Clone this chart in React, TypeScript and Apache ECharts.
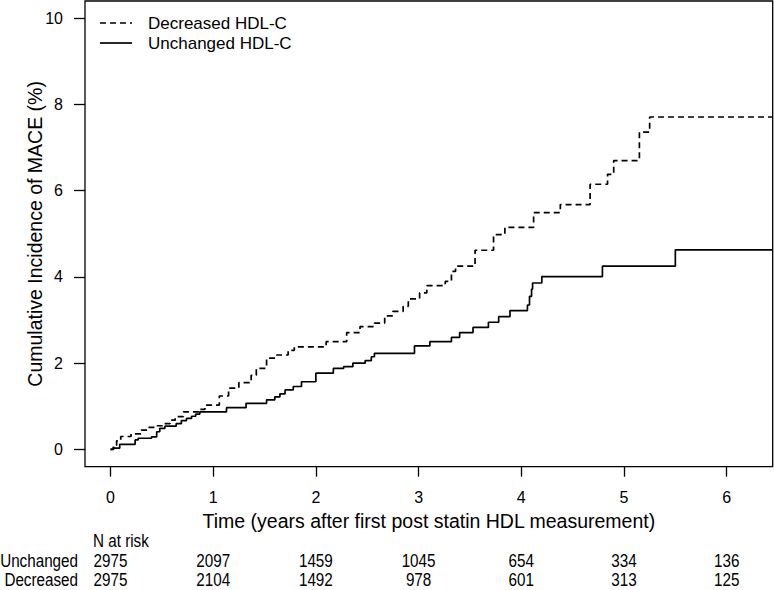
import React, { useEffect, useRef } from "react";
import * as echarts from "echarts";

const unchangedX = [0, 0.02, 0.09, 0.24, 0.27, 0.40, 0.45, 0.48, 0.53, 0.64, 0.69, 0.74, 0.79, 0.83, 0.87, 1.13, 1.32, 1.52, 1.60, 1.65, 1.70, 1.78, 1.86, 2.0, 2.17, 2.27, 2.36, 2.48, 2.54, 2.57, 2.96, 3.11, 3.32, 3.40, 3.53, 3.68, 3.78, 3.89, 4.06, 4.08, 4.10, 4.11, 4.20, 4.79, 5.50, 6.45];
const unchangedY = [0, 0.03, 0.12, 0.22, 0.26, 0.29, 0.41, 0.49, 0.54, 0.60, 0.67, 0.72, 0.77, 0.82, 0.87, 0.97, 1.07, 1.15, 1.22, 1.29, 1.38, 1.46, 1.57, 1.77, 1.88, 1.92, 2.0, 2.06, 2.15, 2.23, 2.40, 2.50, 2.60, 2.71, 2.83, 2.95, 3.08, 3.22, 3.35, 3.55, 3.72, 3.86, 4.01, 4.25, 4.63, 4.63];

const decreasedX = [0, 0.03, 0.06, 0.10, 0.20, 0.30, 0.37, 0.45, 0.51, 0.58, 0.63, 0.71, 0.87, 0.92, 1.06, 1.15, 1.25, 1.37, 1.42, 1.52, 1.62, 1.73, 1.79, 2.10, 2.30, 2.43, 2.57, 2.67, 2.75, 2.85, 2.90, 3.01, 3.08, 3.26, 3.32, 3.36, 3.55, 3.73, 3.84, 4.12, 4.38, 4.67, 4.84, 4.90, 5.15, 5.25, 6.45];
const decreasedY = [0, 0.10, 0.20, 0.30, 0.36, 0.45, 0.51, 0.55, 0.60, 0.68, 0.76, 0.87, 0.93, 1.03, 1.24, 1.42, 1.55, 1.72, 1.88, 2.12, 2.19, 2.30, 2.38, 2.50, 2.71, 2.85, 2.93, 3.10, 3.20, 3.32, 3.49, 3.63, 3.80, 3.90, 4.13, 4.25, 4.62, 4.98, 5.15, 5.49, 5.68, 6.15, 6.38, 6.70, 7.36, 7.71, 7.71];

const xTicks = [0, 1, 2, 3, 4, 5, 6];
const yTicks = [0, 2, 4, 6, 8, 10];
const riskTimes = [0, 1, 2, 3, 4, 5, 6];
const riskUnchanged = [2975, 2097, 1459, 1045, 654, 334, 136];
const riskDecreased = [2975, 2104, 1492, 978, 601, 313, 125];
const rowLabels = ["Unchanged", "Decreased"];
const seriesNames = ["Decreased HDL-C", "Unchanged HDL-C"];
const xTitle = "Time (years after first post statin HDL measurement)";
const yTitle = "Cumulative Incidence of MACE (%)";
const riskTitle = "N at risk";

const FONT = "'Liberation Sans', Arial, Helvetica, sans-serif";

export default function App() {
  const ref = useRef<HTMLDivElement>(null);

  useEffect(() => {
    const chart = echarts.init(ref.current!, null, { renderer: "svg" });
    const zip = (xs: number[], ys: number[]) => xs.map((x, i) => [x, ys[i]]);

    chart.setOption({
      animation: false,
      grid: {
        left: 85,
        top: 1,
        right: 1.3,
        bottom: 123.3,
        show: true,
        borderColor: "#000",
        borderWidth: 1.3,
        backgroundColor: "transparent",
      },
      xAxis: {
        type: "value",
        min: -0.248,
        max: 6.448,
        axisLine: { show: false, onZero: false },
        splitLine: { show: false },
        axisTick: { show: true, customValues: xTicks, length: 10, lineStyle: { color: "#000", width: 1.3 } },
        axisLabel: { customValues: xTicks, margin: 23, fontSize: 16, color: "#000", fontFamily: FONT },
        name: xTitle,
        nameLocation: "middle",
        nameGap: 44,
        nameMoveOverlap: false,
        nameTextStyle: { fontSize: 19.5, color: "#000", fontFamily: FONT },
      },
      yAxis: {
        type: "value",
        min: -0.4,
        max: 10.4,
        axisLine: { show: false, onZero: false },
        splitLine: { show: false },
        axisTick: { show: true, customValues: yTicks, length: 11, lineStyle: { color: "#000", width: 1.3 } },
        axisLabel: { customValues: yTicks, margin: 22, fontSize: 16, color: "#000", fontFamily: FONT },
        name: yTitle,
        nameLocation: "middle",
        nameGap: 40,
        nameMoveOverlap: false,
        nameTextStyle: { fontSize: 19.5, color: "#000", fontFamily: FONT },
      },
      series: [
        {
          name: seriesNames[0],
          type: "line",
          step: "end",
          showSymbol: false,
          symbol: "none",
          data: zip(decreasedX, decreasedY),
          lineStyle: { color: "#000", width: 1.7, type: [6, 4] },
        },
        {
          name: seriesNames[1],
          type: "line",
          step: "end",
          showSymbol: false,
          symbol: "none",
          data: zip(unchangedX, unchangedY),
          lineStyle: { color: "#000", width: 1.7, type: "solid" },
        },
      ],
    });

    const graphics: any[] = [];
    const legendY = [23, 43];
    seriesNames.forEach((name, i) => {
      graphics.push({
        type: "line",
        shape: { x1: 100, y1: legendY[i], x2: 132, y2: legendY[i] },
        style: { stroke: "#000", lineWidth: 1.7, lineDash: i === 0 ? [6, 4] : null },
      });
      graphics.push({
        type: "text",
        x: 148,
        y: legendY[i],
        style: { text: name, fontSize: 17, fontFamily: FONT, fill: "#000", verticalAlign: "middle", align: "left" },
      });
    });
    const tableFont = 17.5;
    const tableScale = 0.87;
    graphics.push({
      type: "text",
      x: 93,
      y: 541,
      scaleX: tableScale,
      style: { text: riskTitle, fontSize: tableFont, fontFamily: FONT, fill: "#000", verticalAlign: "middle", align: "left" },
    });
    const rows = [riskUnchanged, riskDecreased];
    const rowY = [561, 580];
    rows.forEach((vals, r) => {
      graphics.push({
        type: "text",
        x: 78,
        y: rowY[r],
        scaleX: tableScale,
        style: { text: rowLabels[r], fontSize: tableFont, fontFamily: FONT, fill: "#000", verticalAlign: "middle", align: "right" },
      });
      vals.forEach((v, k) => {
        const px = chart.convertToPixel({ xAxisIndex: 0 }, riskTimes[k]) as number;
        graphics.push({
          type: "text",
          x: px,
          y: rowY[r],
          scaleX: tableScale,
          style: { text: String(v), fontSize: tableFont, fontFamily: FONT, fill: "#000", verticalAlign: "middle", align: "center" },
        });
      });
    });
    chart.setOption({ graphic: graphics });

    return () => chart.dispose();
  }, []);

  return (
    <div
      ref={ref}
      style={{ position: "fixed", left: 0, top: 0, width: 774, height: 590, background: "#fff" }}
    />
  );
}
